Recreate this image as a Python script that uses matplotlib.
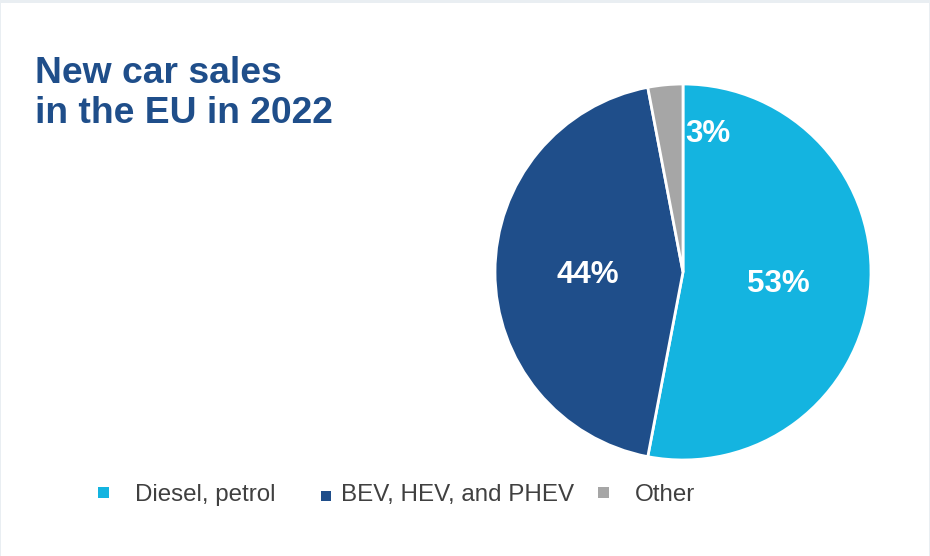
import matplotlib
matplotlib.use("Agg")
import matplotlib.pyplot as plt
from matplotlib.patches import Rectangle

plt.rcParams['font.family'] = ['Liberation Sans', 'DejaVu Sans']

# Data
categories = ["Diesel, petrol", "BEV, HEV, and PHEV", "Other"]
shares = [53, 44, 3]
colors = ["#14B4E0", "#1F4E8A", "#A6A6A6"]
title_lines = ["New car sales", "in the EU in 2022"]

W, H = 930, 556
fig = plt.figure(figsize=(W / 100, H / 100), dpi=100, facecolor="#E9EEF2")

# white panel inside a thin light frame
fig.patches.append(Rectangle((1 / W, 0), 1 - 2 / W, 1 - 3 / H, transform=fig.transFigure,
                             facecolor="white", edgecolor="none", zorder=-10))

# pie axes: centre (683, 272) px, radius 188 px
cx, cy, r = 683, 272, 188
ax = fig.add_axes([(cx - r) / W, (H - cy - r) / H, 2 * r / W, 2 * r / H])
ax.patch.set_visible(False)
wedges, texts, autotexts = ax.pie(
    shares, colors=colors, startangle=90, counterclock=False,
    autopct=lambda p: f"{p:.0f}%", pctdistance=0.5,
    wedgeprops=dict(edgecolor="white", linewidth=2),
    textprops=dict(color="white", fontsize=22.6, fontweight="bold"),
)
ax.set_xlim(-1, 1)
ax.set_ylim(-1, 1)
ax.set_aspect("equal")
ax.axis("off")

# label placement inside the wedges
autotexts[0].set_position((0.505, -0.065))
autotexts[1].set_position((-0.505, -0.015))
autotexts[2].set_position((0.13, 0.735))

# title
title_color = "#1F4E8A"
for line, base in zip(title_lines, [83, 123]):
    fig.text(35 / W, 1 - base / H, line, fontsize=26.8, fontweight="bold",
             color=title_color, va="baseline", ha="left")

# legend row
legend_items = [
    # (square left, square top, square size, text left)
    (98, 487, 11, 135),
    (321, 491, 10, 341),
    (598, 487, 11, 635),
]
for (sx, sy, ss, tx), name, col in zip(legend_items, categories, colors):
    fig.patches.append(Rectangle((sx / W, 1 - (sy + ss) / H), ss / W, ss / H,
                                 transform=fig.transFigure, facecolor=col,
                                 edgecolor="none", zorder=2))
    fig.text(tx / W, 1 - 501 / H, name, fontsize=17.4, color="#404040",
             va="baseline", ha="left")

fig.savefig("out.png", dpi=100, facecolor=fig.get_facecolor())
